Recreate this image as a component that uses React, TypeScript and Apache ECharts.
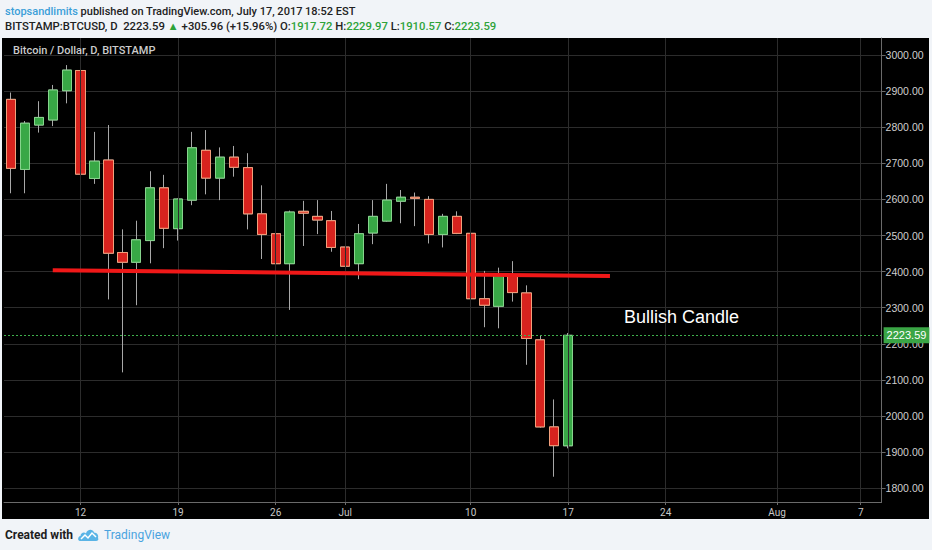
import React, { useEffect, useRef } from 'react';
import * as echarts from 'echarts';

// ---- data ----
const firstDay = '2017-06-07';
const lastDay = '2017-08-08';

const opens = [2877, 2683, 2806, 2820, 2901, 2957, 2658, 2709, 2453, 2426, 2486, 2632, 2519, 2598, 2736, 2659, 2717, 2688, 2560, 2505, 2422, 2567, 2553, 2541, 2468, 2422, 2507, 2540, 2595, 2606, 2600, 2503, 2553, 2506, 2325, 2304, 2387, 2341, 2211, 1970, 1917.72];
const closes = [2686, 2811, 2827, 2903, 2958, 2670, 2706, 2451, 2426, 2488, 2632, 2520, 2601, 2743, 2659, 2717, 2689, 2560, 2503, 2422, 2565, 2562, 2543, 2467, 2415, 2505, 2553, 2598, 2606, 2603, 2503, 2553, 2506, 2325, 2307, 2389, 2342, 2215, 1970, 1918, 2223.59];
const lows = [2617, 2617, 2785, 2803, 2866, 2483, 2643, 2323, 2121, 2307, 2423, 2465, 2486, 2584, 2614, 2598, 2663, 2517, 2435, 2319, 2294, 2471, 2504, 2455, 2393, 2379, 2476, 2538, 2534, 2526, 2478, 2467, 2504, 2264, 2246, 2243, 2317, 2142, 1968, 1832, 1910.57];
const highs = [2896, 2817, 2872, 2917, 2972, 2984, 2787, 2806, 2517, 2541, 2678, 2668, 2603, 2787, 2792, 2744, 2748, 2728, 2639, 2554, 2569, 2596, 2598, 2568, 2520, 2532, 2598, 2643, 2626, 2619, 2609, 2560, 2567, 2529, 2402, 2411, 2429, 2362, 2222, 2046, 2229.97];

const xTickDates = ['2017-06-12', '2017-06-19', '2017-06-26', '2017-07-01', '2017-07-10', '2017-07-17', '2017-07-24', '2017-08-01', '2017-08-07'];
const xTickLabels = ['12', '19', '26', 'Jul', '10', '17', '24', 'Aug', '7'];

const yMin = 1762;
const yMax = 3047;

const trendStart = ['2017-06-10', 2404];
const trendEnd = ['2017-07-20', 2388];

const titleText = 'Bitcoin / Dollar, D, BITSTAMP';
const annotationText = 'Bullish Candle';
const author = 'stopsandlimits';
const publishedText = ' published on TradingView.com, July 17, 2017 18:52 EST';
const symbolText = 'BITSTAMP:BTCUSD, D  ';
const changeText = ' +305.96 (+15.96%) ';

// categories: every day of the visible range
const dates: string[] = [];
{
  const d = new Date(firstDay + 'T00:00:00Z');
  const end = new Date(lastDay + 'T00:00:00Z').getTime();
  while (d.getTime() <= end) {
    dates.push(d.toISOString().slice(0, 10));
    d.setUTCDate(d.getUTCDate() + 1);
  }
}

echarts.graphic.registerShape(
  'tvlogo',
  echarts.graphic.extendPath(
    'M2 14 C-0.5 14 -0.5 9.5 2.5 9 C2.5 5.5 6.5 4.5 8 6.5 C9 2 15 1.5 16 5.5 C19 5.5 21 8.5 20 11 C21 12.5 20 14 18 14 Z',
    {}
  )
);

const GREEN = '#38a846';
const RED = '#d7231e';

export default function App() {
  const ref = useRef<HTMLDivElement>(null);

  useEffect(() => {
    if (!ref.current) return;
    const chart = echarts.init(ref.current, null, { renderer: 'svg' });
    const tickSet = new Set(xTickDates);
    const labelMap: Record<string, string> = {};
    xTickDates.forEach((d, i) => (labelMap[d] = xTickLabels[i]));

    const n = opens.length;
    const ohlc = dates.slice(0, n).map((_, i) => [opens[i], closes[i], lows[i], highs[i]]);
    const bodies = dates.slice(0, n).map((_, i) => [
      opens[i],
      closes[i],
      Math.min(opens[i], closes[i]),
      Math.max(opens[i], closes[i]),
    ]);
    const last = n - 1;
    const lastClose = closes[last];

    const option: any = {
      animation: false,
      backgroundColor: '#000',
      grid: { left: 4, top: 38, width: 877.6, height: 464, containLabel: false },
      xAxis: {
        type: 'category',
        data: dates,
        boundaryGap: true,
        axisLine: { show: true, lineStyle: { color: '#6a6a6a' } },
        axisTick: {
          show: true,
          alignWithLabel: true,
          length: 3,
          interval: (_i: number, v: string) => tickSet.has(v),
          lineStyle: { color: '#6a6a6a' },
        },
        axisLabel: {
          interval: (_i: number, v: string) => tickSet.has(v),
          formatter: (v: string) => labelMap[v] || '',
          color: '#c8c8c8',
          fontSize: 10,
          fontFamily: 'Roboto',
          margin: 5,
        },
        splitLine: { show: false },
      },
      yAxis: {
        type: 'value',
        position: 'right',
        min: yMin,
        max: yMax,
        splitNumber: 13,
        axisLine: { show: true, lineStyle: { color: '#6a6a6a' } },
        axisTick: { show: true, length: 4, lineStyle: { color: '#6a6a6a' } },
        axisLabel: {
          color: '#cfcfcf',
          fontSize: 10.5,
          fontFamily: 'Liberation Sans',
          margin: 4,
          showMinLabel: false,
          showMaxLabel: false,
          formatter: (v: number) => (Math.round(v) % 100 === 0 ? v.toFixed(2) : ''),
        },
        splitLine: { show: true, showMinLine: false, showMaxLine: false, lineStyle: { color: '#2c2c2c' } },
      },
      series: [
        {
          type: 'line',
          data: [],
          z: 1,
          silent: true,
          markLine: {
            silent: true,
            symbol: ['none', 'none'],
            label: { show: false },
            lineStyle: { color: '#2c2c2c', width: 1, type: 'solid' },
            data: xTickDates.map((d) => ({ xAxis: d })),
          },
        },
        {
          type: 'candlestick',
          name: 'wick',
          z: 2,
          silent: true,
          barWidth: '70%',
          data: ohlc,
          itemStyle: {
            color: '#a8a8a8',
            color0: '#a8a8a8',
            borderColor: '#a8a8a8',
            borderColor0: '#a8a8a8',
            borderWidth: 1,
          },
        },
        {
          type: 'candlestick',
          name: 'body',
          z: 3,
          silent: true,
          barWidth: '70%',
          data: bodies,
          itemStyle: {
            color: GREEN,
            color0: RED,
            borderColor: '#86d48c',
            borderColor0: '#f2a07c',
            borderWidth: 1,
          },
        },
        {
          type: 'line',
          data: [],
          z: 5,
          silent: true,
          markLine: {
            silent: true,
            symbol: ['none', 'none'],
            data: [
              [
                { coord: trendStart, lineStyle: { color: '#f01818', width: 4, type: 'solid' }, label: { show: false } },
                { coord: trendEnd },
              ],
              {
                yAxis: lastClose,
                lineStyle: { color: '#3fb04c', width: 1, type: [2, 2] },
                label: {
                  show: true,
                  position: 'end',
                  distance: 2,
                  formatter: lastClose.toFixed(2),
                  color: '#fff',
                  backgroundColor: '#3aa545',
                  padding: [3, 3, 2, 3],
                  fontSize: 11,
                  fontFamily: 'Liberation Sans',
                },
              },
            ],
          },
        },
      ],
      graphic: [
        { type: 'rect', silent: true, z: 0, shape: { x: 0, y: 0, width: 932, height: 38 }, style: { fill: '#f1f4f8' } },
        { type: 'rect', silent: true, z: 0, shape: { x: 0, y: 519, width: 932, height: 31 }, style: { fill: '#f1f4f8' } },
        { type: 'rect', silent: true, z: 0, shape: { x: 0, y: 0, width: 2, height: 550 }, style: { fill: '#f1f4f8' } },
        { type: 'rect', silent: true, z: 0, shape: { x: 929, y: 0, width: 3, height: 550 }, style: { fill: '#f1f4f8' } },
        {
          type: 'text',
          x: 5,
          y: 11,
          z: 10,
          style: {
            text: '{a|' + author + '}{b|' + publishedText + '}',
            verticalAlign: 'middle',
            rich: {
              a: { fill: '#3c9fd8', fontSize: 11, fontFamily: 'Roboto', fontWeight: 500 },
              b: { fill: '#222', fontSize: 11, fontFamily: 'Roboto', fontWeight: 500 },
            },
          },
        },
        {
          type: 'text',
          x: 5,
          y: 26,
          z: 10,
          style: {
            text:
              '{k|' + symbolText + lastClose.toFixed(2) + ' }{g|▲}{k|' + changeText + 'O:}{g|' + opens[last].toFixed(2) +
              '}{k| H:}{g|' + highs[last].toFixed(2) + '}{k| L:}{g|' + lows[last].toFixed(2) + '}{k| C:}{g|' + lastClose.toFixed(2) + '}',
            verticalAlign: 'middle',
            rich: {
              k: { fill: '#222', fontSize: 11.3, fontFamily: 'Roboto', fontWeight: 500 },
              g: { fill: '#2ea33a', fontSize: 11.3, fontFamily: 'Roboto', fontWeight: 500 },
            },
          },
        },
        {
          type: 'text',
          x: 13,
          y: 50,
          z: 10,
          style: { text: titleText, fill: '#cccccc', fontSize: 11, fontFamily: 'Roboto', fontWeight: 500, verticalAlign: 'middle' },
        },
        {
          type: 'text',
          x: 624,
          y: 317,
          z: 10,
          style: { text: annotationText, fill: '#ffffff', fontSize: 18, fontFamily: 'Liberation Sans', verticalAlign: 'middle' },
        },
        {
          type: 'text',
          x: 5,
          y: 535,
          z: 10,
          style: { text: 'Created with', fill: '#1e1e1e', fontSize: 12, fontFamily: 'Roboto', fontWeight: 'bold', verticalAlign: 'middle' },
        },
        { type: 'tvlogo', x: 78, y: 527, z: 10, style: { fill: '#5ab4e6' } },
        {
          type: 'polyline',
          z: 11,
          shape: { points: [[81, 539], [85, 535], [88, 538], [92, 533], [96, 537]] },
          style: { stroke: '#ffffff', lineWidth: 1.5, fill: 'none' },
        },
        {
          type: 'text',
          x: 104,
          y: 535,
          z: 10,
          style: { text: 'TradingView', fill: '#4aa3df', fontSize: 12, fontFamily: 'Roboto', verticalAlign: 'middle' },
        },
      ],
    };

    chart.setOption(option);
    return () => chart.dispose();
  }, []);

  return <div ref={ref} style={{ position: 'absolute', left: 0, top: 0, width: 932, height: 550 }} />;
}
